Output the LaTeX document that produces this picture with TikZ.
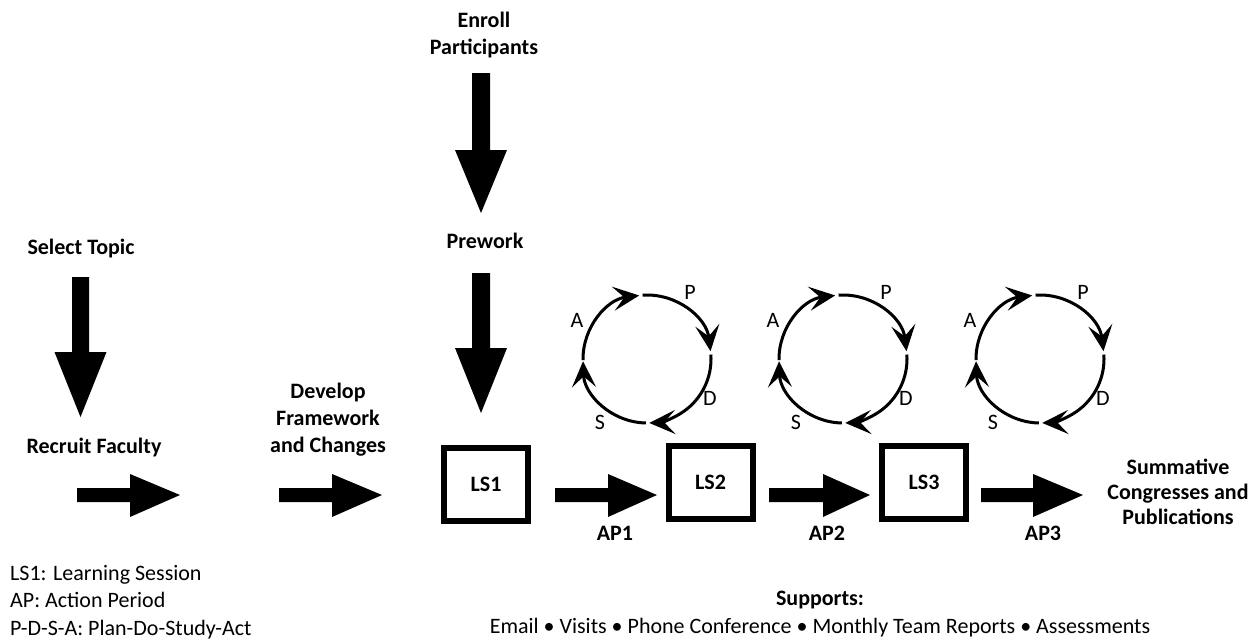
\documentclass[tikz,border=0pt]{standalone}
\usepackage{fontspec}
\setmainfont{Carlito}
\usetikzlibrary{arrows.meta}
\newcommand\rarr[3]{\fill (#1,-488) -- (#2,-488) -- (#2,-474) -- (#3,-495) -- (#2,-517) -- (#2,-502) -- (#1,-502) -- cycle;}
\newcommand\darr[5]{% x-left shaft, x-right shaft, top, head start, tip ; head half-width 26
  \fill (#1,-#3) -- (#2,-#3) -- (#2,-#4) -- ({(#1+#2)/2+26},-#4) -- ({(#1+#2)/2},-#5) -- ({(#1+#2)/2-26},-#4) -- (#1,-#4) -- cycle;}
\newcommand\pdsa[3]{%
  \begin{scope}[shift={(#1,#2)}]
    \draw[cyc] (181:64) arc[start angle=181, end angle=97, radius=64];
    \draw[cyc] (94:64) arc[start angle=94, end angle=7, radius=64];
    \draw[cyc] (4:64) arc[start angle=4, end angle=-88, radius=64];
    \draw[cyc] (-91:64) arc[start angle=-91, end angle=-178, radius=64];
    \node[cl] (#3A) at (-70,39) {A};
    \node[cl] (#3P) at (43,67) {P};
    \node[cl] (#3D) at (63,-39) {D};
    \node[cl] (#3S) at (-47,-63) {S};
  \end{scope}}
\begin{document}
\begin{tikzpicture}[x=1pt,y=1pt,
  lbl/.style={font=\fontsize{22}{27}\selectfont\bfseries, align=center, inner sep=0pt},
  one/.style={text height=15pt, text depth=4pt},
  txt/.style={font=\fontsize{22}{27}\selectfont, inner sep=0pt, text height=15pt, text depth=4pt},
  lsbox/.style={draw, line width=6pt, minimum width=84pt, minimum height=73pt,
    font=\fontsize{22}{27}\selectfont\bfseries, inner sep=0pt},
  cyc/.style={line width=3pt, -{Stealth[length=26pt,width=24pt,inset=11pt]}},
  cl/.style={font=\fontsize{22}{26}\selectfont, inner sep=0pt, text height=14pt, text depth=0pt}]
\useasboundingbox (0,0) rectangle (1260,-642);

% top labels
\node[lbl] (enroll) at (484,-35) {Enroll\\Participants};
\node[lbl, one] (prework) at (485,-243) {Prework};
\node[lbl, one] (select) at (81,-249) {Select Topic};
\node[lbl, one] (recruit) at (94,-448) {Recruit Faculty};
\node[lbl] (develop) at (328,-420) {Develop\\Framework\\and Changes};

% down arrows
\darr{72}{89}{277}{352}{417}
\darr{472}{490}{73}{150}{213}
\darr{472}{490}{273}{348}{413}

% right arrows
\rarr{77}{130}{180}
\rarr{279}{332}{382}
\rarr{555}{608}{657}
\rarr{769}{823}{870}
\rarr{981}{1033}{1083}

% learning sessions
\node[lsbox] (ls1) at (486,-484.5) {LS1};
\node[lsbox] (ls2) at (710.5,-482.5) {LS2};
\node[lsbox] (ls3) at (924,-482.5) {LS3};

\node[lbl, one] (ap1) at (615,-535) {AP1};
\node[lbl, one] (ap2) at (827,-535) {AP2};
\node[lbl, one] (ap3) at (1043,-535) {AP3};

\node[lbl, font=\fontsize{22}{25}\selectfont\bfseries] (summ) at (1178,-492) {Summative\\Congresses and\\Publications};

% PDSA cycles
\pdsa{647}{-359}{c1}
\pdsa{843}{-359}{c2}
\pdsa{1040}{-359}{c3}

% legend
\node[txt, anchor=west] (leg1) at (10,-575) {LS1: Learning Session};
\node[txt, anchor=west] (leg2) at (10,-602) {AP: Action Period};
\node[txt, anchor=west] (leg3) at (10,-630) {P-D-S-A: Plan-Do-Study-Act};

\node[lbl, one] (sup) at (820,-600) {Supports:};
\node[txt] (supl) at (820,-628) {Email • Visits • Phone Conference • Monthly Team Reports • Assessments};
\end{tikzpicture}
\end{document}
